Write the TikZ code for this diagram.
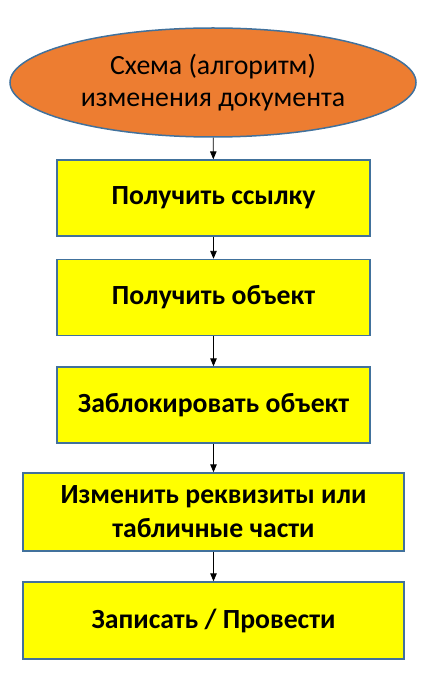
\documentclass[tikz,border=0pt]{standalone}
\usepackage{fontspec}
\setmainfont{Carlito}
\usetikzlibrary{shapes.geometric, arrows}
\definecolor{boxline}{HTML}{41719C}
\definecolor{startfill}{HTML}{ED7D31}
\definecolor{boxfill}{HTML}{FFFF00}
\tikzset{
	startshape/.style={ellipse, draw=boxline, line width=1.5pt, fill=startfill, inner sep=0pt,
		minimum width=406pt, minimum height=109pt, align=center, font=\fontsize{27.8}{32}\selectfont},
	stepbox/.style={rectangle, draw=boxline, line width=1.5pt, fill=boxfill, inner sep=0pt,
		minimum height=76pt, align=center, font=\bfseries\fontsize{27.7}{34}\selectfont},
	flowarrow/.style={-triangle 45, line width=0.8pt}
}
\begin{document}
\begin{tikzpicture}[x=1pt, y=-1pt]
				\useasboundingbox (0,0) rectangle (430,684);
				%Centres of the shapes
				\coordinate (cStart) at (213,82.5);
				\coordinate (cLink) at (213.5,198);
				\coordinate (cObject) at (213.5,297.5);
				\coordinate (cLock) at (213.5,405);
				\coordinate (cChange) at (213.5,512);
				\coordinate (cWrite) at (213.5,620.5);
				%The start ellipse
				\node [startshape] (start) at (cStart) {Схема (алгоритм)\\изменения документа};
				%The steps
				\node [stepbox, minimum width=313pt] (link) at (cLink) {Получить ссылку};
				\node [stepbox, minimum width=313pt] (object) at (cObject) {Получить объект};
				\node [stepbox, minimum width=313pt] (lock) at (cLock) {Заблокировать объект};
				\node [stepbox, minimum width=381pt, minimum height=78pt] (change) at (cChange) {Изменить реквизиты или\\табличные части};
				\node [stepbox, minimum width=381pt, minimum height=77pt] (write) at (cWrite) {Записать / Провести};
				%Arrows between the shapes
				\draw [flowarrow] (start) -- (link);
				\draw [flowarrow] (link) -- (object);
				\draw [flowarrow] (object) -- (lock);
				\draw [flowarrow] (lock) -- (change);
				\draw [flowarrow] (change) -- (write);
\end{tikzpicture}
\end{document}
